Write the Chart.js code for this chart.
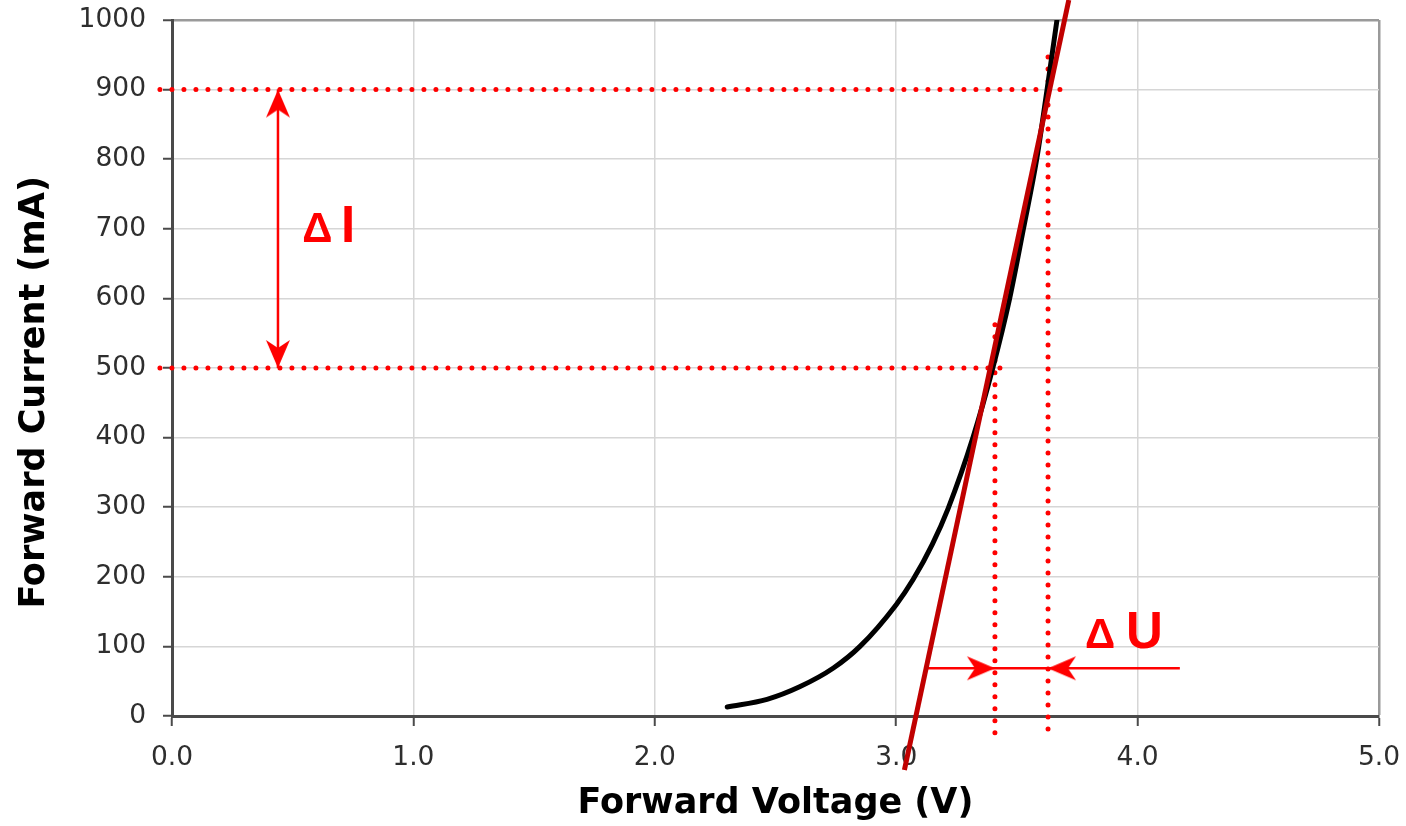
<!DOCTYPE html>
<html>
<head>
<meta charset="utf-8">
<script src="https://cdn.jsdelivr.net/npm/chart.js@4.4.1/dist/chart.umd.min.js"></script>
<style>
  html, body { margin: 0; padding: 0; background: #ffffff; }
  canvas { display: block; }
</style>
</head>
<body>
<canvas id="iv_chart" width="1406" height="826"></canvas>
<script>
// LED forward characteristic
const curveVoltage = [2.30, 2.465, 2.60, 2.74, 2.85, 3.00, 3.07, 3.15, 3.215, 3.318, 3.40, 3.47, 3.527, 3.582, 3.625, 3.666];
const curveCurrent = [13, 24, 42, 69, 100, 160, 196, 247, 298, 400, 500, 600, 700, 800, 900, 1000];

// tangent through the working point
const tangentVoltage = [3.034, 3.715];
const tangentCurrent = [-77.6, 1028.7];

// dotted helper lines
const levelCurrent = [900, 500];
const levelStart = [-0.05, -0.05];
const levelEnd = [3.70, 3.47];
const markVoltage = [3.409, 3.629];
const markTop = [562, 947];
const markBottom = [-27, -23];

// delta I / delta U arrows
const deltaIVoltage = [0.439, 0.439];
const deltaICurrent = [900, 500];
const deltaUVoltage = [3.127, 3.409, 3.629, 4.175];
const deltaUCurrent = [68.5, 68.5, 68.5, 68.5];

// annotation text
const labelTexts = ["Δ", "I", "Δ", "U"];
const labelVoltage = [0.54, 0.70, 3.782, 3.952];
const labelCurrent = [681, 681, 98, 98];

const xTicks = [0, 1, 2, 3, 4, 5];
const yMax = 1000;

const toPoints = (xs, ys) => xs.map((x, i) => ({ x, y: ys[i] }));

const RED = "#ff0000";

// notched arrow head, pointing up, tip in the middle of the canvas
const arrowHead = document.createElement("canvas");
arrowHead.width = 28;
arrowHead.height = 60;
(() => {
  const c = arrowHead.getContext("2d");
  const cx = 14, cy = 30;
  c.fillStyle = RED;
  c.beginPath();
  c.moveTo(cx, cy);
  c.lineTo(cx + 12, cy + 28);
  c.lineTo(cx, cy + 20);
  c.lineTo(cx - 12, cy + 28);
  c.closePath();
  c.fill();
})();

const dotted = (data) => ({
  data,
  showLine: true,
  borderColor: RED,
  borderWidth: 5,
  borderDash: [0, 12],
  borderCapStyle: "round",
  pointRadius: 0,
  clip: false,
});

const deltaLabels = {
  id: "deltaLabels",
  afterDatasetsDraw(chart) {
    const { ctx, scales } = chart;
    ctx.save();
    ctx.fillStyle = RED;
    ctx.textAlign = "left";
    ctx.textBaseline = "alphabetic";
    labelTexts.forEach((t, i) => {
      ctx.font = t === "Δ" ? "bold 42px 'Liberation Sans'" : "bold 51px 'Liberation Sans'";
      ctx.fillText(t, scales.x.getPixelForValue(labelVoltage[i]), scales.y.getPixelForValue(labelCurrent[i]));
    });
    ctx.restore();
  },
};

new Chart(document.getElementById("iv_chart"), {
  type: "scatter",
  data: {
    datasets: [
      {
        data: toPoints(tangentVoltage, tangentCurrent),
        showLine: true,
        borderColor: "#c00000",
        borderWidth: 5,
        pointRadius: 0,
        clip: false,
      },
      {
        data: toPoints(curveVoltage, curveCurrent),
        showLine: true,
        borderColor: "#000000",
        borderWidth: 5,
        cubicInterpolationMode: "monotone",
        borderCapStyle: "round",
        pointRadius: 0,
      },
      dotted([{ x: levelStart[0], y: levelCurrent[0] }, { x: levelEnd[0], y: levelCurrent[0] }]),
      dotted([{ x: levelStart[1], y: levelCurrent[1] }, { x: levelEnd[1], y: levelCurrent[1] }]),
      dotted([{ x: markVoltage[0], y: markTop[0] }, { x: markVoltage[0], y: markBottom[0] }]),
      dotted([{ x: markVoltage[1], y: markTop[1] }, { x: markVoltage[1], y: markBottom[1] }]),
      {
        data: toPoints(deltaIVoltage, deltaICurrent),
        showLine: true,
        borderColor: RED,
        borderWidth: 2.5,
        pointStyle: arrowHead,
        pointRadius: [5, 5],
        pointRotation: [0, 180],
      },
      {
        data: toPoints(deltaUVoltage, deltaUCurrent),
        showLine: true,
        borderColor: RED,
        borderWidth: 2.5,
        pointStyle: arrowHead,
        pointRadius: [0, 5, 5, 0],
        pointRotation: [0, 90, -90, 0],
      },
    ],
  },
  plugins: [deltaLabels],
  options: {
    responsive: false,
    animation: false,
    events: [],
    devicePixelRatio: 1,
    layout: {
      padding: { top: 20, right: 27, left: 0, bottom: 0 },
    },
    scales: {
      x: {
        type: "linear",
        min: 0,
        max: 5,
        afterFit: (scale) => {
          scale.height = 110;
          scale.paddingLeft = 0;
          scale.paddingRight = 0;
        },
        afterBuildTicks: (scale) => { scale.ticks = xTicks.map((v) => ({ value: v })); },
        ticks: {
          callback: (v) => v.toFixed(1),
          color: "#2e2e2e",
          padding: 16,
          font: { family: "DejaVu Sans", size: 26.5 },
        },
        grid: {
          color: (c) => (c.tick && c.tick.value === 5 ? "#9a9a9a" : "#d6d6d6"),
          lineWidth: (c) => (c.tick && c.tick.value === 5 ? 2.5 : 1.5),
          tickColor: "#4a4a4a",
          tickLength: 10,
          tickWidth: 2,
        },
        border: { color: "#4a4a4a", width: 3 },
        title: {
          display: true,
          text: "Forward Voltage (V)",
          color: "#000000",
          padding: { top: 0, bottom: 1 },
          font: { family: "DejaVu Sans", size: 35, weight: "bold" },
        },
      },
      y: {
        type: "linear",
        min: 0,
        max: yMax,
        afterFit: (scale) => {
          scale.width = 172;
          scale.paddingTop = 0;
          scale.paddingBottom = 0;
        },
        ticks: {
          stepSize: 100,
          callback: (v) => String(v),
          color: "#2e2e2e",
          padding: 17,
          font: { family: "DejaVu Sans", size: 26.5 },
        },
        grid: {
          color: (c) => (c.tick && c.tick.value === yMax ? "#9a9a9a" : "#d6d6d6"),
          lineWidth: (c) => (c.tick && c.tick.value === yMax ? 2.5 : 1.5),
          tickColor: "#4a4a4a",
          tickLength: 9,
          tickWidth: 2,
        },
        border: { color: "#4a4a4a", width: 3 },
        title: {
          display: true,
          // trailing no-break spaces push the title a little below the axis middle, as in the original
          text: "Forward Current (mA)\u00a0\u00a0\u00a0\u00a0",
          color: "#000000",
          padding: { top: 14, bottom: 0 },
          font: { family: "DejaVu Sans", size: 35, weight: "bold" },
        },
      },
    },
    plugins: {
      legend: { display: false },
      tooltip: { enabled: false },
    },
  },
});
</script>
</body>
</html>
